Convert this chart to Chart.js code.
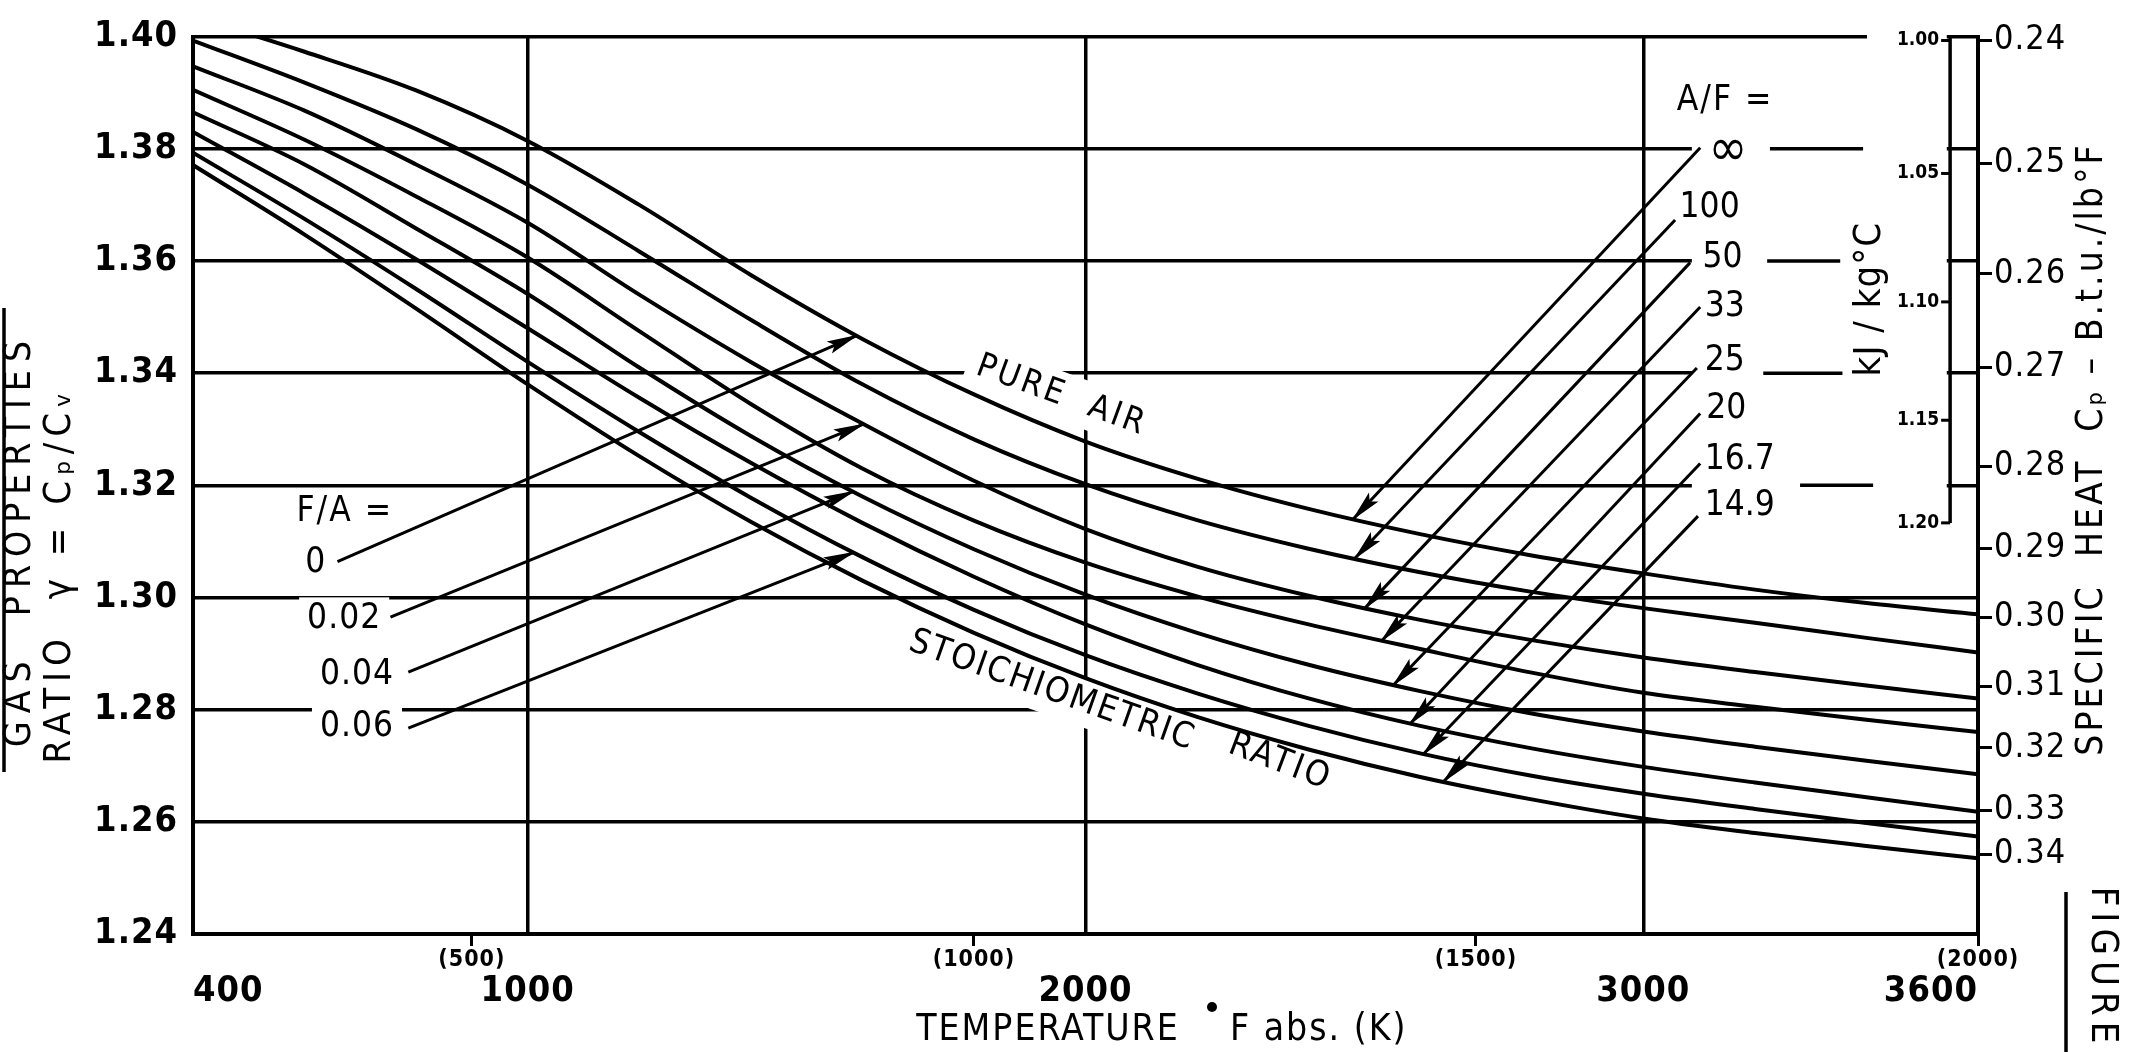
<!DOCTYPE html>
<html lang="en">
<head>
<meta charset="utf-8">
<title>Gas properties - ratio of specific heats</title>
<script src="https://cdn.jsdelivr.net/npm/chart.js@4.4.1/dist/chart.umd.min.js"></script>
<style>
  html, body { margin: 0; padding: 0; background: #ffffff; }
  canvas { display: block; }
</style>
</head>
<body>
<canvas id="gasChart" width="2134" height="1052" style="width:2134px;height:1052px"></canvas>
<script>
// temperature, deg F abs
const temps = [400, 600, 800, 1000, 1200, 1400, 1600, 1800, 2000, 2200, 2400, 2600, 2800, 3000, 3200, 3400, 3600];

// gamma = cp/cv, one curve per air/fuel ratio
const gammaInf  = [1.4036, 1.3973, 1.3904, 1.3814, 1.3700, 1.3575, 1.3461, 1.3362, 1.3278, 1.3212, 1.3158, 1.3113, 1.3075, 1.3043, 1.3014, 1.2990, 1.2970];
const gamma100  = [1.3993, 1.3918, 1.3835, 1.3736, 1.3617, 1.3495, 1.3380, 1.3282, 1.3202, 1.3138, 1.3087, 1.3045, 1.3010, 1.2981, 1.2955, 1.2928, 1.2902];
const gamma50   = [1.3947, 1.3868, 1.3772, 1.3668, 1.3540, 1.3420, 1.3310, 1.3208, 1.3122, 1.3055, 1.3003, 1.2960, 1.2924, 1.2893, 1.2867, 1.2843, 1.2820];
const gamma33   = [1.3905, 1.3816, 1.3715, 1.3606, 1.3475, 1.3345, 1.3230, 1.3137, 1.3062, 1.3002, 1.2952, 1.2908, 1.2866, 1.2830, 1.2805, 1.2782, 1.2760];
const gamma25   = [1.3865, 1.3772, 1.3658, 1.3541, 1.3410, 1.3288, 1.3180, 1.3086, 1.3005, 1.2937, 1.2880, 1.2833, 1.2793, 1.2761, 1.2734, 1.2709, 1.2685];
const gamma20   = [1.3830, 1.3720, 1.3603, 1.3480, 1.3356, 1.3240, 1.3133, 1.3037, 1.2952, 1.2880, 1.2820, 1.2771, 1.2731, 1.2698, 1.2670, 1.2644, 1.2618];
const gamma16_7 = [1.3793, 1.3675, 1.3550, 1.3420, 1.3295, 1.3178, 1.3072, 1.2978, 1.2897, 1.2829, 1.2771, 1.2722, 1.2682, 1.2650, 1.2623, 1.2598, 1.2574];
const gamma14_9 = [1.3771, 1.3647, 1.3515, 1.3380, 1.3252, 1.3135, 1.3030, 1.2937, 1.2856, 1.2787, 1.2729, 1.2680, 1.2640, 1.2606, 1.2580, 1.2557, 1.2535];
const gammaSeries = [gammaInf, gamma100, gamma50, gamma33, gamma25, gamma20, gamma16_7, gamma14_9];

const airFuel = ['∞', '100', '50', '33', '25', '20', '16.7', '14.9'];
const fuelAir = ['0', '0.02', '0.04', '0.06'];

// axes
const gammaTicks = [1.24, 1.26, 1.28, 1.30, 1.32, 1.34, 1.36, 1.38, 1.40];
const tempTicks = [400, 1000, 2000, 3000, 3600];
const kelvinAt = [900, 1800, 2700, 3600];
const kelvinLabels = ['(500)', '(1000)', '(1500)', '(2000)'];
const btuLabels = ['0.24', '0.25', '0.26', '0.27', '0.28', '0.29', '0.30', '0.31', '0.32', '0.33', '0.34'];
const btuGamma = [1.3993, 1.3774, 1.3577, 1.3410, 1.3234, 1.3088, 1.2964, 1.2841, 1.2732, 1.2621, 1.2542];
const kjLabels = ['1.00', '1.05', '1.10', '1.15', '1.20'];
const kjGamma = [1.3993, 1.3756, 1.3527, 1.3316, 1.3133];

// pointer lines: [T from, gamma from, T to (on curve), gamma to]
const faLeaders = [
  [659, 1.3064, 1590, 1.3467],
  [754, 1.2965, 1602, 1.3309],
  [786, 1.2867, 1584, 1.3189],
  [786, 1.2767, 1584, 1.3080]
];
const afLeaders = [
  [3102, 1.3802, 2480, 1.3140],
  [3057, 1.3673, 2483, 1.3070],
  [3084, 1.3597, 2501, 1.2981],
  [3102, 1.3518, 2531, 1.2923],
  [3096, 1.3409, 2552, 1.2844],
  [3102, 1.3328, 2582, 1.2775],
  [3102, 1.3239, 2606, 1.2721],
  [3098, 1.3145, 2642, 1.2672]
];

// where the ratio labels sit (T, gamma)
const faLabelAt = [[620, 1.3061], [671, 1.2961], [694, 1.2862], [694, 1.2769]];
const afLabelAt = [[3117, 1.3796], [3065, 1.3694], [3106, 1.3606], [3110, 1.3518], [3110, 1.3422], [3113, 1.3337], [3110, 1.3246], [3110, 1.3163]];

const FONT = '"DejaVu Sans Condensed", "DejaVu Sans", sans-serif';

function put(ctx, str, x, y, o) {
  o = o || {};
  const size = o.size || 34;
  ctx.save();
  ctx.font = (o.weight || 'normal') + ' ' + size + 'px ' + FONT;
  ctx.letterSpacing = (o.spacing || 0) + 'px';
  ctx.textAlign = o.align || 'center';
  ctx.textBaseline = 'middle';
  ctx.translate(x, y);
  if (o.rot) ctx.rotate(o.rot);
  if (o.blank) {
    const w = ctx.measureText(str).width;
    const h = size * 0.8;
    const x0 = ctx.textAlign === 'left' ? 0 : (ctx.textAlign === 'right' ? -w : -w / 2);
    ctx.fillStyle = '#fff';
    ctx.fillRect(x0 - o.blank, -h / 2 - o.blank, w + 2 * o.blank, h + 2 * o.blank);
  }
  ctx.fillStyle = '#000';
  ctx.fillText(str, 0, 0);
  ctx.restore();
}

const chartNotes = {
  id: 'chartNotes',
  beforeDraw(chart) {
    const ctx = chart.ctx;
    ctx.save();
    ctx.fillStyle = '#fff';
    ctx.fillRect(0, 0, chart.width, chart.height);
    ctx.restore();
    ctx.letterSpacing = '1px';
  },
  beforeDatasetsDraw(chart) {
    const {ctx, chartArea: area, scales} = chart;
    const X = t => scales.x.getPixelForValue(t);
    const Y = g => scales.y.getPixelForValue(g);
    ctx.save();
    // upper grid lines stop short of the specific heat ladder
    ctx.fillStyle = '#fff';
    ctx.fillRect(X(3087), area.top + 3, X(3544) - X(3087), Y(1.315) - area.top - 3);
    ctx.fillRect(X(3401), area.top - 3, X(3544) - X(3401), 6);
    ctx.strokeStyle = '#000';
    ctx.lineWidth = 3.5;
    [[1.38, 3227, 3394], [1.36, 3222, 3353], [1.34, 3215, 3357], [1.32, 3281, 3412]].forEach(([g, t0, t1]) => {
      ctx.beginPath();
      ctx.moveTo(X(t0), Y(g));
      ctx.lineTo(X(t1), Y(g));
      ctx.stroke();
    });

    // kJ/kg C ladder
    const lx = X(3550);
    ctx.beginPath();
    ctx.moveTo(lx, area.top);
    ctx.lineTo(lx, Y(kjGamma[kjGamma.length - 1]));
    ctx.stroke();
    ctx.lineWidth = 3;
    kjGamma.forEach((g, i) => {
      ctx.beginPath();
      ctx.moveTo(lx - 9, Y(g));
      ctx.lineTo(lx, Y(g));
      ctx.stroke();
      put(ctx, kjLabels[i], lx - 11, Y(g), {size: 19, weight: 'bold', align: 'right'});
    });
    put(ctx, 'kJ / kg°C', X(3406), Y(1.3532), {size: 38, rot: -Math.PI / 2, spacing: 1});

    // curve names
    put(ctx, 'PURE  AIR', X(1957), Y(1.3359), {size: 34, rot: 0.35, spacing: 3, blank: 10});
    put(ctx, 'STOICHIOMETRIC', X(1940), Y(1.2833), {size: 35, rot: 0.34, spacing: 2, blank: 10});
    put(ctx, 'RATIO', X(2349), Y(1.2706), {size: 35, rot: 0.36, spacing: 3, blank: 8});

    // fuel/air and air/fuel labels
    put(ctx, 'F/A =', X(672), Y(1.3153), {size: 35, spacing: 2, blank: 4});
    fuelAir.forEach((s, i) => put(ctx, s, X(faLabelAt[i][0]), Y(faLabelAt[i][1]), {size: 35, spacing: 1, blank: 8}));
    put(ctx, 'A/F =', X(3060), Y(1.3886), {size: 35, align: 'left', spacing: 2});
    airFuel.forEach((s, i) => put(ctx, s, X(afLabelAt[i][0]), Y(afLabelAt[i][1]), {size: i === 0 ? 52 : 35, align: 'left'}));
    ctx.restore();
  },
  afterDatasetsDraw(chart) {
    const ctx = chart.ctx;
    ctx.save();
    ctx.fillStyle = '#000';
    chart.data.datasets.forEach((ds, i) => {
      if (!ds.leader) return;
      const pts = chart.getDatasetMeta(i).data;
      const a = pts[0], b = pts[1];
      const ang = Math.atan2(b.y - a.y, b.x - a.x);
      ctx.save();
      ctx.translate(b.x, b.y);
      ctx.rotate(ang);
      ctx.beginPath();
      ctx.moveTo(2, 0);
      ctx.lineTo(-30, -6.5);
      ctx.lineTo(-24, 0);
      ctx.lineTo(-30, 6.5);
      ctx.closePath();
      ctx.fill();
      ctx.restore();
    });
    ctx.restore();
  },
  afterDraw(chart) {
    const ctx = chart.ctx;
    ctx.save();
    ctx.fillStyle = '#000';
    ctx.strokeStyle = '#000';
    ctx.lineWidth = 3.5;
    put(ctx, 'GAS  PROPERTIES', 20, 540, {size: 37, rot: -Math.PI / 2, spacing: 8});
    ctx.beginPath();
    ctx.moveTo(4, 308);
    ctx.lineTo(4, 772);
    ctx.stroke();
    put(ctx, 'RATIO  γ = Cₚ/Cᵥ', 60, 575, {size: 38, rot: -Math.PI / 2, spacing: 6});
    put(ctx, 'TEMPERATURE', 1048, 1030, {size: 37, spacing: 2});
    ctx.beginPath();
    ctx.arc(1212, 1007, 5, 0, 2 * Math.PI);
    ctx.fill();
    put(ctx, 'F abs. (K)', 1230, 1030, {size: 37, spacing: 2, align: 'left'});
    put(ctx, 'SPECIFIC  HEAT  Cₚ – B.t.u./lb°F', 2092, 449, {size: 37, rot: -Math.PI / 2, spacing: 3});
    put(ctx, 'FIGURE', 2102, 968, {size: 38, rot: Math.PI / 2, spacing: 6});
    ctx.beginPath();
    ctx.moveTo(2066, 892);
    ctx.lineTo(2066, 1052);
    ctx.stroke();
    ctx.restore();
  }
};

const curveSets = gammaSeries.map((vals, i) => ({
  label: 'A/F = ' + airFuel[i],
  data: temps.map((t, j) => ({x: t, y: vals[j]})),
  borderColor: '#000',
  borderWidth: 4,
  pointRadius: 0,
  fill: false,
  cubicInterpolationMode: 'monotone'
}));

const leaderSets = faLeaders.concat(afLeaders).map(l => ({
  label: 'pointer',
  leader: true,
  data: [{x: l[0], y: l[1]}, {x: l[2], y: l[3]}],
  borderColor: '#000',
  borderWidth: 3,
  pointRadius: 0,
  tension: 0
}));

const tickFont = {family: FONT, size: 36, weight: 'bold'};

new Chart(document.getElementById('gasChart'), {
  type: 'line',
  data: { datasets: curveSets.concat(leaderSets) },
  options: {
    responsive: false,
    animation: false,
    devicePixelRatio: 1,
    layout: { padding: { top: 24, left: 0, right: 0, bottom: 0 } },
    plugins: { legend: { display: false }, tooltip: { enabled: false } },
    scales: {
      x: {
        type: 'linear', axis: 'x', position: 'bottom', weight: 1,
        min: 400, max: 3600,
        afterBuildTicks: s => { s.ticks = tempTicks.map(v => ({value: v})); },
        afterFit: s => { s.height = 82; },
        grid: { color: '#000', lineWidth: 3.5, drawTicks: false },
        border: { display: false },
        ticks: { font: tickFont, color: '#000', padding: 0, align: 'inner', autoSkip: false, maxRotation: 0, callback: v => String(v) }
      },
      xK: {
        type: 'linear', axis: 'x', position: 'bottom', weight: 0,
        min: 400, max: 3600,
        afterBuildTicks: s => { s.ticks = kelvinAt.map(v => ({value: v})); },
        afterFit: s => { s.height = 36; },
        grid: { drawOnChartArea: false, drawTicks: true, tickLength: 12, color: '#000', lineWidth: 3 },
        border: { display: true, color: '#000', width: 4 },
        ticks: { font: {family: FONT, size: 23, weight: 'bold'}, color: '#000', padding: 0, autoSkip: false, maxRotation: 0, callback: (v, i) => kelvinLabels[i] }
      },
      y: {
        type: 'linear', axis: 'y', position: 'left',
        min: 1.24, max: 1.40,
        afterBuildTicks: s => { s.ticks = gammaTicks.map(v => ({value: v})); },
        afterFit: s => { s.width = 193; },
        grid: { color: '#000', lineWidth: 3.5, drawTicks: false },
        border: { display: true, color: '#000', width: 4 },
        ticks: { font: tickFont, color: '#000', padding: 15, autoSkip: false, callback: v => v.toFixed(2) }
      },
      yCp: {
        type: 'linear', axis: 'y', position: 'right',
        min: 1.24, max: 1.40,
        afterBuildTicks: s => { s.ticks = btuGamma.map(v => ({value: v})); },
        afterFit: s => { s.width = 156; },
        grid: { drawOnChartArea: false, drawTicks: true, tickLength: 14, color: '#000', lineWidth: 3 },
        border: { display: true, color: '#000', width: 4 },
        ticks: { font: {family: FONT, size: 34}, color: '#000', padding: 2, autoSkip: false, callback: (v, i) => btuLabels[i] }
      }
    }
  },
  plugins: [chartNotes]
});
</script>
</body>
</html>
